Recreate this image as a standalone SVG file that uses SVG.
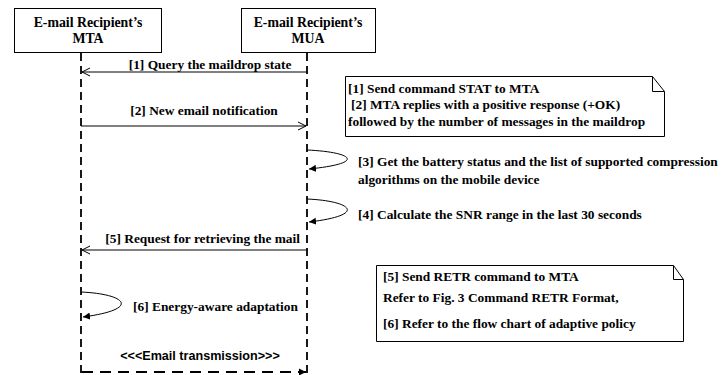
<svg xmlns="http://www.w3.org/2000/svg" width="722" height="375" viewBox="0 0 722 375">
<defs>
<marker id="open" markerWidth="10" markerHeight="10" refX="9" refY="5" orient="auto" markerUnits="userSpaceOnUse">
<path d="M1,1 L9,5 L1,9" fill="none" stroke="#000" stroke-width="1"/>
</marker>
<marker id="filled" markerWidth="8" markerHeight="8" refX="7" refY="4" orient="auto" markerUnits="userSpaceOnUse">
<path d="M0,0.5 L7,4 L0,7.5 Z" fill="#000"/>
</marker>
</defs>
<style>
.box{fill:#fff;stroke:#000;stroke-width:1}
.t{font-family:"Liberation Serif","Times New Roman",serif;font-weight:bold;font-size:13.4px;fill:#000}
.h{font-family:"Liberation Serif","Times New Roman",serif;font-weight:bold;font-size:13.8px;fill:#000;text-anchor:middle}
.life{stroke:#000;stroke-width:1.8;stroke-dasharray:8,5;fill:none}
.msg{stroke:#000;stroke-width:1;fill:none}
.s{font-family:"Liberation Sans",Arial,sans-serif;font-weight:bold;font-size:12.6px;fill:#000;text-anchor:middle}
</style>
<rect width="722" height="375" fill="#fff"/>
<g id="mta">
<rect class="box" x="14.5" y="8.5" width="147" height="44"/>
<text class="h" x="88" y="27">E-mail Recipient’s</text>
<text class="h" x="88" y="43">MTA</text>
</g>
<g id="mua">
<rect class="box" x="241.5" y="8.5" width="134" height="44"/>
<text class="h" x="308" y="27">E-mail Recipient’s</text>
<text class="h" x="308" y="43">MUA</text>
</g>
<g id="note1">
<path class="box" d="M345.5,76.5 H652.5 L664.5,91.5 V136.5 H345.5 Z"/>
<path class="msg" d="M652.5,76.5 V91.5 H664.5"/>
<text class="t" x="348" y="93">[1] Send command STAT to MTA</text>
<text class="t" x="351" y="109">[2] MTA replies with a positive response (+OK)</text>
<text class="t" x="348" y="126">followed by the number of messages in the maildrop</text>
</g>
<g id="note2">
<path class="box" d="M376.5,265.5 H673.5 L683.5,279.5 V341.5 H376.5 Z"/>
<path class="msg" d="M673.5,265.5 V279.5 H683.5"/>
<text class="t" x="383" y="281">[5] Send RETR command to MTA</text>
<text class="t" x="383" y="302">Refer to Fig. 3 Command RETR Format,</text>
<text class="t" x="383" y="328">[6] Refer to the flow chart of adaptive policy</text>
</g>
<g id="connectors">
<line class="life" x1="81" y1="53" x2="81" y2="375"/>
<line class="life" x1="307" y1="53" x2="307" y2="375"/>
<line class="msg" x1="307" y1="72" x2="82" y2="72" marker-end="url(#open)"/>
<line class="msg" x1="81" y1="126" x2="306" y2="126" marker-end="url(#open)"/>
<path class="msg" d="M307,150 C352,152 368,163 309,169" marker-end="url(#filled)"/>
<path class="msg" d="M307,199 C352,201 368,215 309,222" marker-end="url(#filled)"/>
<line class="msg" x1="307" y1="250" x2="82" y2="250" marker-end="url(#open)"/>
<path class="msg" d="M81,292 C126,294 142,309 83,317" marker-end="url(#filled)"/>
<line x1="82" y1="372" x2="306" y2="372" stroke="#000" stroke-width="2" stroke-dasharray="11,7" marker-end="url(#filled)"/>
</g>
<g id="labels">
<text class="t" x="210" y="69" text-anchor="middle">[1] Query the maildrop state</text>
<text class="t" x="204" y="115" text-anchor="middle">[2] New email notification</text>
<text class="t" x="358" y="166">[3] Get the battery status and the list of supported compression</text>
<text class="t" x="358" y="184">algorithms on the mobile device</text>
<text class="t" x="358" y="219">[4] Calculate the SNR range in the last 30 seconds</text>
<text class="t" x="300" y="243" text-anchor="end">[5] Request for retrieving the mail</text>
<text class="t" x="133" y="311">[6] Energy-aware adaptation</text>
<text class="s" x="200" y="360">&lt;&lt;&lt;Email transmission&gt;&gt;&gt;</text>
</g>
</svg>
